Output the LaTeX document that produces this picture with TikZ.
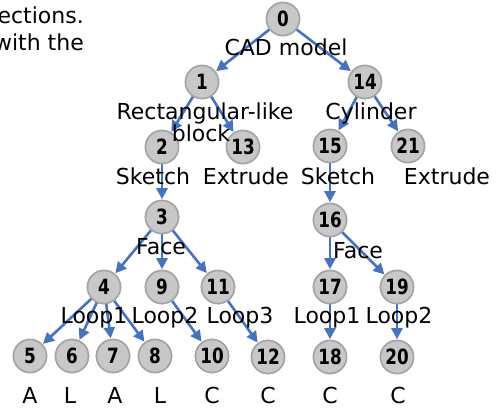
\documentclass[tikz,border=0pt]{standalone}
\usepackage{fontspec}
\setmainfont{DejaVu Sans}
\newfontfamily\digitfont[FakeStretch=0.8]{DejaVu Sans}
\usetikzlibrary{arrows.meta}
\definecolor{edgeblue}{RGB}{68,114,196}
\definecolor{nodefill}{RGB}{200,200,200}
\definecolor{nodeline}{RGB}{165,165,165}
\begin{document}
\begin{tikzpicture}[x=1pt,y=-1pt,
  tn/.style={circle,draw=nodeline,fill=nodefill,line width=1.6pt,minimum size=33pt,inner sep=0pt,font=\fontsize{21}{21}\digitfont\bfseries},
  lbl/.style={font=\fontsize{22}{25}\selectfont,inner sep=0pt,align=center},
  edge/.style={draw=edgeblue,line width=2.6pt,-{Triangle[length=11pt,width=11pt]},shorten >=0.5pt}]
\useasboundingbox (0,0) rectangle (496,408);
\clip (0,0) rectangle (496,408);
% node positions (drawn first so that edges can refer to them)
\foreach \n/\t/\x/\y in {n0/0/283/19,n1/1/202/82,n14/14/365/82,n2/2/162/147,n13/13/243/147,n15/15/330/146,n21/21/408/146,n3/3/162/217,n16/16/330/220,n4/4/104/287,n9/9/162/287,n11/11/218/287,n17/17/330/287,n19/19/397/287,n5/5/30/356,n6/6/72/356,n7/7/113/356,n8/8/155/356,n10/10/212/356,n12/12/268/357,n18/18/330/357,n20/20/397/357}
  \node[tn] (\n) at (\x,\y) {\t};
% edges
\foreach \a/\b in {n0/n1,n0/n14,n1/n2,n1/n13,n14/n15,n14/n21,n2/n3,n3/n4,n3/n9,n3/n11,n4/n5,n4/n6,n4/n7,n4/n8,n9/n10,n11/n12,n15/n16,n16/n17,n16/n19,n17/n18,n19/n20}
  \draw[edge] (\a) -- (\b);
% nodes again, above the edges
\foreach \n/\t/\x/\y in {n0/0/283/19,n1/1/202/82,n14/14/365/82,n2/2/162/147,n13/13/243/147,n15/15/330/146,n21/21/408/146,n3/3/162/217,n16/16/330/220,n4/4/104/287,n9/9/162/287,n11/11/218/287,n17/17/330/287,n19/19/397/287,n5/5/30/356,n6/6/72/356,n7/7/113/356,n8/8/155/356,n10/10/212/356,n12/12/268/357,n18/18/330/357,n20/20/397/357}
  \node[tn] at (\x,\y) {\t};
% labels
\node[lbl,anchor=east] (t1) at (84,15) {sections.};
\node[lbl,anchor=east] (t2) at (84,42) {with the};
\node[lbl] (l0) at (286,47) {CAD model};
\node[lbl] (l1) at (205,113) {Rectangular-like};
\node[lbl] (l1b) at (201,133) {block};
\node[lbl] (l14) at (371,113) {Cylinder};
\node[lbl] (l2) at (153,176) {Sketch};
\node[lbl] (l13) at (246,176) {Extrude};
\node[lbl] (l15) at (338,176) {Sketch};
\node[lbl] (l21) at (447,176) {Extrude};
\node[lbl] (l3) at (161,247) {Face};
\node[lbl] (l16) at (358,251) {Face};
\node[lbl] (l4) at (94,318) {Loop1};
\node[lbl] (l9) at (165,318) {Loop2};
\node[lbl] (l11) at (240,318) {Loop3};
\node[lbl] (l17) at (327,318) {Loop1};
\node[lbl] (l19) at (399,318) {Loop2};
\foreach \c/\x in {A/30,L/70,A/115,L/160,C/212,C/268,C/330,C/398}
  \node[lbl] at (\x,395) {\c};
\end{tikzpicture}
\end{document}
